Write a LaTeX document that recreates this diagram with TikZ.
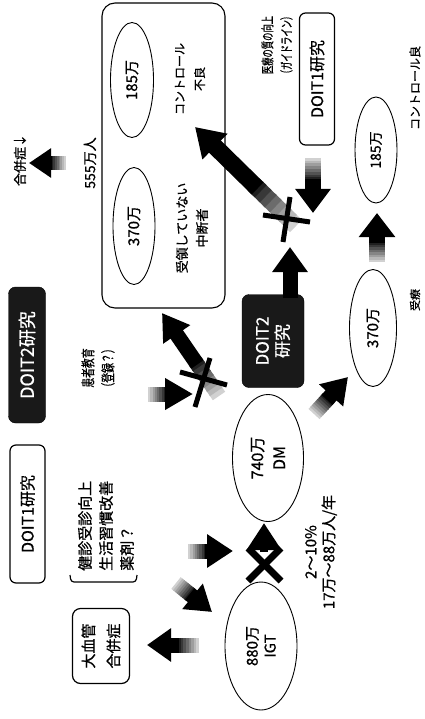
\documentclass[tikz,border=0pt]{standalone}
\usepackage{fontspec}
\setmainfont{Noto Sans CJK JP}[FakeBold=0.8]
\usepackage{graphicx}
\usetikzlibrary{shapes.geometric,arrows.meta,calc}
\newcommand\fsz[2]{\fontsize{#1}{#2}\selectfont}
% fading block arrow: #1 start, #2 end, #3 shaft width, #4 head length, #5 head width
\newcommand\fadearrow[5]{%
  \foreach \i in {0,...,7}{%
    \pgfmathtruncatemacro\cc{18+10*\i}%
    \draw[line width=#3, draw=black!\cc] ($(#1)!{\i*0.05}!(#2)$) -- ($(#1)!{(\i+1.4)*0.05}!(#2)$);
  }%
  \draw[line width=#3, -{Triangle[length=#4,width=#5]}] ($(#1)!0.38!(#2)$) -- (#2);
}
\newcommand\solidarrow[5]{%
  \draw[line width=#3, -{Triangle[length=#4,width=#5]}] (#1) -- (#2);
}
\begin{document}
\begin{tikzpicture}[x=1pt,y=-1pt,
  ell/.style={draw, ellipse, line width=0.9pt, inner sep=0pt, rotate=90, align=center},
  rbox/.style={draw, rounded corners=6pt, line width=1.2pt, inner sep=0pt, rotate=90, align=center},
  dbox/.style={fill=black!90, draw=black, rounded corners=7pt, inner sep=0pt, rotate=90, text=white, align=center},
  lbl/.style={rotate=90, inner sep=0pt, align=center}]
\useasboundingbox (0,0) rectangle (424,719);

% big rounded box
\node[draw, rounded corners=13pt, line width=1.1pt, minimum width=123pt, minimum height=305pt, inner sep=0pt] (bigbox) at (163.5,155.5) {};
\node[ell, minimum width=115pt, minimum height=43pt, font=\fsz{15}{18}] (e185a) at (132,80) {185万};
\node[ell, minimum width=117pt, minimum height=42pt, font=\fsz{15}{18}] (e370a) at (134,226) {370万};
\node[lbl, font=\fsz{12}{20}] (tfuryo) at (190,79) {コントロール\\不良};
\node[lbl, font=\fsz{13}{20}] (tchudan) at (192,228) {受領していない\\中断者};
\node[lbl, font=\fsz{14}{16}] (t555) at (90,163) {555万人};
\node[lbl, font=\fsz{13}{16}] (tgappei) at (20,160) {合併症↓};

% right top
\node[lbl, font=\fsz{13}{19}] (tiryo) at (277,45) {\scalebox{0.64}[1]{医療の質の向上}\\\scalebox{0.64}[1]{（ガイドライン）}};
\node[rbox, minimum width=132pt, minimum height=35pt, font=\fsz{16}{18}] (doit1r) at (317,79) {DOIT1研究};
\node[lbl, font=\fsz{12}{14}] (tgood) at (415,88) {コントロール良};
\node[ell, minimum width=106pt, minimum height=42pt, font=\fsz{14}{16}] (e185b) at (376,150) {185万};
\node[ell, minimum width=117pt, minimum height=47pt, font=\fsz{15}{18}] (e370b) at (373,328) {370万};
\node[lbl, font=\fsz{11}{13}] (tjuryo) at (415,300) {受療};

% middle
\node[dbox, minimum width=93pt, minimum height=62pt, font=\fsz{17}{20}] (doit2m) at (273,341) {DOIT2\\研究};
\node[ell, minimum width=127pt, minimum height=71pt, font=\fsz{16}{22}] (e740) at (268,458) {740万\\DM};
\node[ell, minimum width=128pt, minimum height=72pt, font=\fsz{15}{18}] (e880) at (261,646) {880万\\IGT};
\node[lbl, font=\fsz{15}{18}] (trate) at (321,552) {2～10\%\\17万～88万人/年};

% left
\node[rbox, minimum width=138pt, minimum height=35pt, font=\fsz{16}{18}] (doit1l) at (27.5,514) {DOIT1研究};
\node[dbox, minimum width=136pt, minimum height=37pt, font=\fsz{18}{20}] (doit2l) at (27,355) {DOIT2研究};
\node[lbl, font=\fsz{14}{20}] (tkanja) at (98,368) {\scalebox{0.7}[1]{患者教育}\\\scalebox{0.7}[1]{（登録？）}};
\node[lbl, align=left, anchor=west, font=\fsz{15}{21}] (tkenshin) at (106,571) {健診受診向上\\生活習慣改善\\薬剤？};
\node[rbox, rounded corners=8pt, minimum width=75pt, minimum height=57pt, font=\fsz{15}{25}] (daikekkan) at (101,646) {大血管\\合併症};

% bracket
\coordinate (br1) at (70,575);
\coordinate (br2) at (71,582);
\coordinate (br3) at (136,582);
\coordinate (br4) at (137,575);
\draw[line width=1.2pt, rounded corners=3pt] (br1) -- (br2) -- (br3) -- (br4);

% arrow coordinates
\coordinate (a1s) at (66,163);  \coordinate (a1e) at (29,163);
\coordinate (a2s) at (313,158); \coordinate (a2e) at (313,213);
\coordinate (a3s) at (377,262); \coordinate (a3e) at (377,213);
\coordinate (a4s) at (296,226); \coordinate (a4e) at (195,127);
\coordinate (a5s) at (290,298); \coordinate (a5e) at (290,247);
\coordinate (a6s) at (314,414); \coordinate (a6e) at (348,377);
\coordinate (a7s) at (219,396); \coordinate (a7e) at (162,313);
\coordinate (a8s) at (148,394); \coordinate (a8e) at (193,394);
\coordinate (a9s) at (264,552); \coordinate (a9e) at (264,523);
\coordinate (a10s) at (188,551); \coordinate (a10e) at (233,551);
\coordinate (a11s) at (176,583); \coordinate (a11e) at (212,612);
\coordinate (a12s) at (199,645); \coordinate (a12e) at (147,645);

\fadearrow{a1s}{a1e}{14pt}{22pt}{28pt}
\fadearrow{a2s}{a2e}{16pt}{24pt}{34pt}
\fadearrow{a3s}{a3e}{16pt}{24pt}{35pt}
\fadearrow{a4s}{a4e}{17pt}{28pt}{34pt}
\solidarrow{a5s}{a5e}{15pt}{25pt}{34pt}
\fadearrow{a6s}{a6e}{15pt}{25pt}{31pt}
\fadearrow{a7s}{a7e}{15pt}{26pt}{31pt}
\fadearrow{a8s}{a8e}{15pt}{28pt}{30pt}
\solidarrow{a9s}{a9e}{8pt}{27pt}{33pt}
\fadearrow{a10s}{a10e}{15pt}{26pt}{32pt}
\fadearrow{a11s}{a11e}{15pt}{25pt}{31pt}
\fadearrow{a12s}{a12e}{15pt}{24pt}{32pt}

% crosses
\coordinate (x1a) at (290,197); \coordinate (x1b) at (283,242);
\coordinate (x1c) at (263,215); \coordinate (x1d) at (310,222);
\draw[line width=5pt] (x1a) -- (x1b);
\draw[line width=5pt] (x1c) -- (x1d);
\coordinate (x2a) at (180,372); \coordinate (x2b) at (227,385);
\coordinate (x2c) at (210,358); \coordinate (x2d) at (195,407);
\draw[line width=5pt] (x2a) -- (x2b);
\draw[line width=5pt] (x2c) -- (x2d);
\coordinate (x3a) at (248,548); \coordinate (x3b) at (281,581);
\coordinate (x3c) at (281,548); \coordinate (x3d) at (248,581);
\draw[line width=7pt] (x3a) -- (x3b);
\draw[line width=7pt] (x3c) -- (x3d);
\end{tikzpicture}
\end{document}
